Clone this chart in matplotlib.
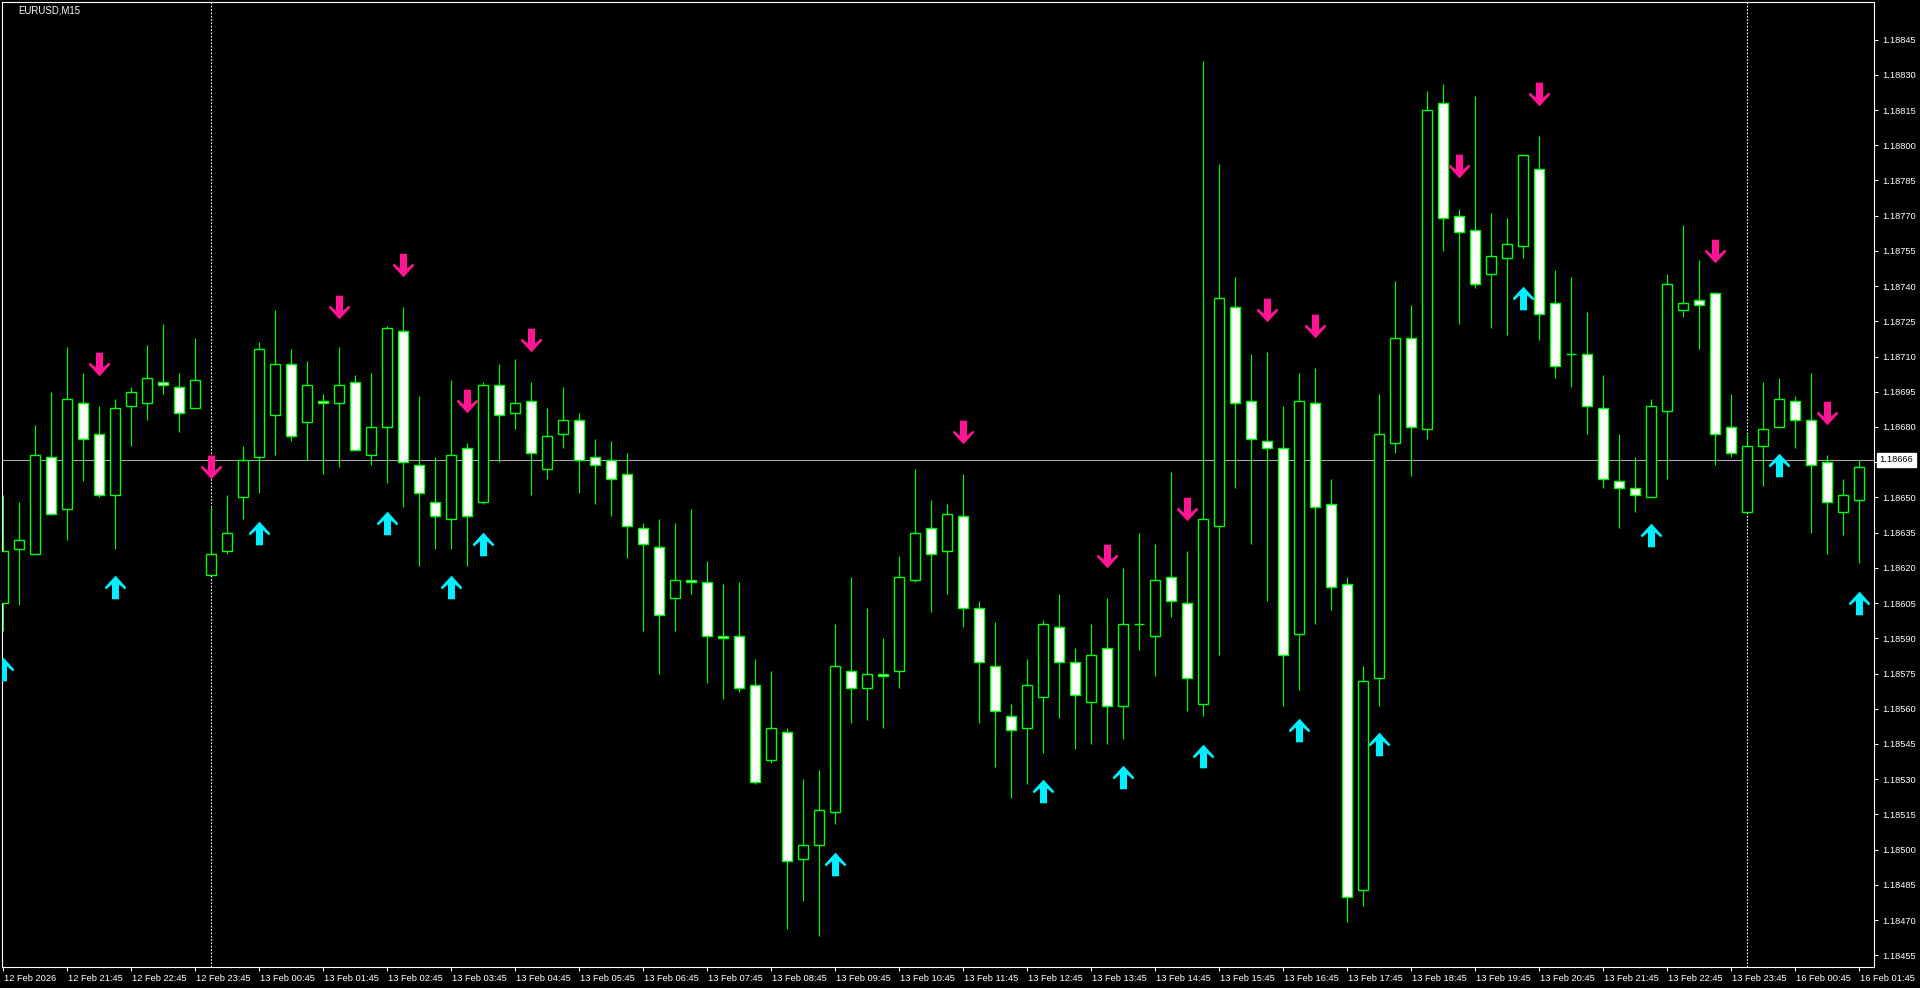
import numpy as np
import matplotlib
matplotlib.use("Agg")
import matplotlib.pyplot as plt
import matplotlib.transforms as mtransforms
from matplotlib.path import Path

# ---------------- data ----------------
chart_title = "EURUSD,M15"

opens = [1.18605, 1.18628, 1.18626, 1.18667, 1.18645, 1.18690, 1.18677, 1.18651, 1.18689, 1.18690,
         1.18699, 1.18697, 1.18688, 1.18617, 1.18627, 1.18650, 1.18667, 1.18685, 1.18707, 1.18682,
         1.18691, 1.18690, 1.18699, 1.18668, 1.18680, 1.18721, 1.18664, 1.18648, 1.18641, 1.18671,
         1.18648, 1.18698, 1.18686, 1.18691, 1.18662, 1.18677, 1.18683, 1.18667, 1.18666, 1.18660,
         1.18637, 1.18629, 1.18607, 1.18615, 1.18614, 1.18591, 1.18591, 1.18570, 1.18538, 1.18550,
         1.18496, 1.18502, 1.18516, 1.18576, 1.18569, 1.18575, 1.18576, 1.18615, 1.18637, 1.18627,
         1.18642, 1.18603, 1.18578, 1.18557, 1.18552, 1.18565, 1.18595, 1.18580, 1.18563, 1.18586,
         1.18561, 1.18596, 1.18591, 1.18616, 1.18605, 1.18562, 1.18638, 1.18731, 1.18691, 1.18674,
         1.18671, 1.18592, 1.18690, 1.18647, 1.18613, 1.18483, 1.18573, 1.18673, 1.18718, 1.18679,
         1.18818, 1.18770, 1.18764, 1.18745, 1.18752, 1.18757, 1.18790, 1.18733, 1.18711, 1.18711,
         1.18688, 1.18657, 1.18654, 1.18650, 1.18687, 1.18730, 1.18734, 1.18737, 1.18680, 1.18644,
         1.18672, 1.18680, 1.18691, 1.18683, 1.18665, 1.18644, 1.18649]
highs = [1.18651, 1.18648, 1.18681, 1.18695, 1.18714, 1.18703, 1.18689, 1.18692, 1.18697, 1.18715,
         1.18724, 1.18703, 1.18718, 1.18646, 1.18651, 1.18672, 1.18716, 1.18730, 1.18713, 1.18708,
         1.18694, 1.18714, 1.18702, 1.18703, 1.18723, 1.18731, 1.18693, 1.18667, 1.18700, 1.18673,
         1.18699, 1.18707, 1.18709, 1.18699, 1.18688, 1.18697, 1.18686, 1.18675, 1.18674, 1.18669,
         1.18639, 1.18641, 1.18639, 1.18645, 1.18623, 1.18613, 1.18614, 1.18581, 1.18576, 1.18552,
         1.18530, 1.18534, 1.18596, 1.18616, 1.18603, 1.18590, 1.18625, 1.18662, 1.18649, 1.18647,
         1.18660, 1.18606, 1.18597, 1.18562, 1.18581, 1.18598, 1.18609, 1.18586, 1.18596, 1.18607,
         1.18620, 1.18635, 1.18630, 1.18661, 1.18627, 1.18836, 1.18792, 1.18744, 1.18711, 1.18712,
         1.18689, 1.18703, 1.18705, 1.18658, 1.18616, 1.18578, 1.18694, 1.18742, 1.18732, 1.18823,
         1.18826, 1.18773, 1.18821, 1.18771, 1.18769, 1.18796, 1.18804, 1.18747, 1.18744, 1.18729,
         1.18702, 1.18677, 1.18667, 1.18692, 1.18745, 1.18766, 1.18751, 1.18737, 1.18694, 1.18677,
         1.18699, 1.18701, 1.18693, 1.18703, 1.18668, 1.18658, 1.18666]
lows = [1.18593, 1.18604, 1.18626, 1.18643, 1.18632, 1.18657, 1.18650, 1.18628, 1.18672, 1.18683,
        1.18694, 1.18678, 1.18688, 1.18617, 1.18626, 1.18641, 1.18652, 1.18668, 1.18674, 1.18666,
        1.18660, 1.18663, 1.18670, 1.18664, 1.18656, 1.18646, 1.18621, 1.18628, 1.18628, 1.18621,
        1.18647, 1.18665, 1.18679, 1.18651, 1.18658, 1.18671, 1.18652, 1.18647, 1.18642, 1.18624,
        1.18593, 1.18575, 1.18593, 1.18609, 1.18571, 1.18564, 1.18567, 1.18528, 1.18537, 1.18466,
        1.18478, 1.18463, 1.18511, 1.18554, 1.18555, 1.18552, 1.18569, 1.18614, 1.18601, 1.18609,
        1.18595, 1.18554, 1.18535, 1.18522, 1.18528, 1.18541, 1.18556, 1.18543, 1.18545, 1.18545,
        1.18547, 1.18585, 1.18574, 1.18599, 1.18559, 1.18557, 1.18583, 1.18654, 1.18630, 1.18606,
        1.18561, 1.18568, 1.18596, 1.18602, 1.18469, 1.18476, 1.18561, 1.18669, 1.18659, 1.18675,
        1.18755, 1.18724, 1.18739, 1.18722, 1.18719, 1.18752, 1.18717, 1.18701, 1.18697, 1.18677,
        1.18654, 1.18637, 1.18644, 1.18650, 1.18658, 1.18727, 1.18713, 1.18664, 1.18667, 1.18644,
        1.18655, 1.18680, 1.18671, 1.18635, 1.18626, 1.18634, 1.18622]
closes = [1.18627, 1.18632, 1.18668, 1.18643, 1.18692, 1.18675, 1.18651, 1.18688, 1.18695, 1.18701,
          1.18698, 1.18686, 1.18700, 1.18626, 1.18635, 1.18666, 1.18713, 1.18707, 1.18676, 1.18698,
          1.18690, 1.18698, 1.18670, 1.18680, 1.18722, 1.18665, 1.18652, 1.18642, 1.18668, 1.18642,
          1.18698, 1.18685, 1.18690, 1.18669, 1.18676, 1.18683, 1.18666, 1.18664, 1.18658, 1.18638,
          1.18630, 1.18600, 1.18615, 1.18614, 1.18591, 1.18590, 1.18569, 1.18529, 1.18552, 1.18495,
          1.18502, 1.18517, 1.18578, 1.18569, 1.18575, 1.18574, 1.18616, 1.18635, 1.18626, 1.18643,
          1.18603, 1.18580, 1.18559, 1.18551, 1.18570, 1.18596, 1.18580, 1.18566, 1.18583, 1.18561,
          1.18596, 1.18596, 1.18615, 1.18606, 1.18573, 1.18641, 1.18735, 1.18690, 1.18675, 1.18671,
          1.18583, 1.18691, 1.18646, 1.18612, 1.18480, 1.18572, 1.18677, 1.18718, 1.18680, 1.18815,
          1.18769, 1.18763, 1.18741, 1.18753, 1.18758, 1.18796, 1.18728, 1.18706, 1.18711, 1.18689,
          1.18658, 1.18654, 1.18651, 1.18689, 1.18741, 1.18733, 1.18732, 1.18677, 1.18669, 1.18672,
          1.18679, 1.18692, 1.18683, 1.18664, 1.18648, 1.18651, 1.18663]

sell_arrow_bars = [6, 13, 21, 25, 29, 33, 60, 69, 74, 79, 82, 91, 96, 107, 114]
sell_arrow_prices = [1.18707, 1.18663, 1.18731, 1.18749, 1.18691, 1.18717, 1.18678, 1.18625,
                     1.18645, 1.18730, 1.18723, 1.18791, 1.18822, 1.18755, 1.18686]
buy_arrow_bars = [0, 7, 16, 24, 28, 30, 52, 65, 70, 75, 81, 86, 95, 103, 111, 116]
buy_arrow_prices = [1.18577, 1.18612, 1.18635, 1.18639, 1.18612, 1.18630, 1.18494, 1.18525,
                    1.18531, 1.18540, 1.18551, 1.18545, 1.18735, 1.18634, 1.18664, 1.18605]

day_separator_bars = [13, 109]
bid_price = 1.18666
bid_label = "1.18666"

xtick_bars = [0, 4, 8, 12, 16, 20, 24, 28, 32, 36, 40, 44, 48, 52, 56, 60, 64, 68, 72, 76,
              80, 84, 88, 92, 96, 100, 104, 108, 112, 116]
xtick_labels = ["12 Feb 2026", "12 Feb 21:45", "12 Feb 22:45", "12 Feb 23:45", "13 Feb 00:45",
                "13 Feb 01:45", "13 Feb 02:45", "13 Feb 03:45", "13 Feb 04:45", "13 Feb 05:45",
                "13 Feb 06:45", "13 Feb 07:45", "13 Feb 08:45", "13 Feb 09:45", "13 Feb 10:45",
                "13 Feb 11:45", "13 Feb 12:45", "13 Feb 13:45", "13 Feb 14:45", "13 Feb 15:45",
                "13 Feb 16:45", "13 Feb 17:45", "13 Feb 18:45", "13 Feb 19:45", "13 Feb 20:45",
                "13 Feb 21:45", "13 Feb 22:45", "13 Feb 23:45", "16 Feb 00:45", "16 Feb 01:45"]
ytick_labels = ["1.18455", "1.18470", "1.18485", "1.18500", "1.18515", "1.18530", "1.18545",
                "1.18560", "1.18575", "1.18590", "1.18605", "1.18620", "1.18635", "1.18650",
                "1.18665", "1.18680", "1.18695", "1.18710", "1.18725", "1.18740", "1.18755",
                "1.18770", "1.18785", "1.18800", "1.18815", "1.18830", "1.18845"]

# ---------------- style ----------------
GREEN = "#00FF00"
BEAR_FILL = "#FFFFFF"
BULL_FILL = "#000000"
UP_COL = "#00F0FF"
DN_COL = "#FF1493"
FONT = "Liberation Sans"
FS = 6.7

W, H = 1920, 988
fig = plt.figure(figsize=(W / 100, H / 100), dpi=100, facecolor="black")
ax = fig.add_axes([2 / W, 1 - 967 / H, (1874 - 2) / W, (967 - 2) / H])
ax.set_facecolor("black")
ax.set_xlim(-0.08, 116.92)
ax.set_ylim(1.18450, 1.18861)

o = np.array(opens)
h = np.array(highs)
l = np.array(lows)
c = np.array(closes)
x = np.arange(len(o))

# day separators and bid line
for b in day_separator_bars:
    ax.axvline(b, color="white", lw=0.8, linestyle=(0, (1.5, 1.5)), zorder=1)
ax.axhline(bid_price, color="#A8A8A8", lw=0.75, zorder=1)

# wicks
ax.vlines(x, l, h, color=GREEN, lw=0.85, zorder=2)
# bodies
bottoms = np.minimum(o, c)
heights = np.abs(c - o)
faces = [BEAR_FILL if cc < oo else BULL_FILL for oo, cc in zip(o, c)]
ax.bar(x, heights, width=0.64, bottom=bottoms, color=faces, edgecolor=GREEN,
       linewidth=1.0, zorder=3)

# arrow markers (notched wide head + short stem)
up_verts = [(0, 0.5), (0.46, 0.0), (0.40, -0.08), (0.15, 0.13), (0.15, -0.5),
            (-0.15, -0.5), (-0.15, 0.13), (-0.40, -0.08), (-0.46, 0.0), (0, 0.5)]
up_path = Path(up_verts, closed=True)
dn_path = Path([(vx, -vy) for vx, vy in up_verts], closed=True)
ax.scatter(buy_arrow_bars, buy_arrow_prices, marker=up_path, s=17 ** 2,
           color=UP_COL, linewidths=0, zorder=5)
ax.scatter(sell_arrow_bars, sell_arrow_prices, marker=dn_path, s=17 ** 2,
           color=DN_COL, linewidths=0, zorder=5)

# spines
for sp in ax.spines.values():
    sp.set_color("white")
    sp.set_linewidth(0.8)

# y axis on right
ax.yaxis.tick_right()
ax.set_yticks([float(t) for t in ytick_labels])
ax.set_yticklabels(ytick_labels, fontfamily=FONT, fontsize=FS, color="white")
ax.tick_params(axis="y", which="both", direction="out", length=3, width=0.7,
               pad=3, colors="white", left=False, right=True)

# x axis
ax.set_xticks(xtick_bars)
ax.set_xticklabels(xtick_labels, fontfamily=FONT, fontsize=FS, color="white", ha="left")
ax.tick_params(axis="x", direction="out", length=3, width=0.7, pad=2, colors="white")
off = mtransforms.ScaledTranslation(1 / 100, 0, fig.dpi_scale_trans)
for lab in ax.get_xticklabels():
    lab.set_transform(lab.get_transform() + off)

# bid price label
trans = mtransforms.blended_transform_factory(ax.transAxes, ax.transData)
ax.text(1.003, bid_price, bid_label, transform=trans, ha="left", va="center",
        fontfamily=FONT, fontsize=FS, color="black", zorder=10, clip_on=False,
        bbox=dict(boxstyle="square,pad=0.3", facecolor="white", edgecolor="white"))

# title
fig.text(18 / W, 1 - 10.5 / H, chart_title, color="white", fontsize=6.9,
         fontfamily=FONT, ha="left", va="center", zorder=10)

fig.savefig("out.png", dpi=100, facecolor="black")
